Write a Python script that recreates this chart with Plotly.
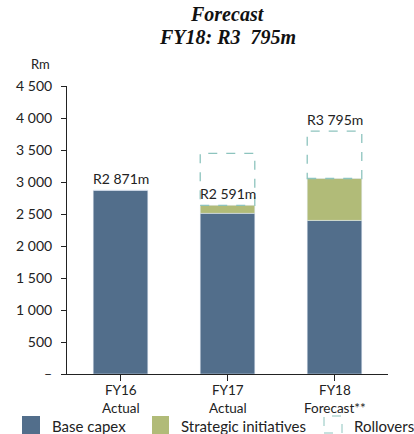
import plotly.graph_objects as go

categories = ["FY16<br>Actual", "FY17<br>Actual", "FY18<br>Forecast**"]
base_capex = [2871, 2510, 2400]
strategic = [0, 126, 655]
rollovers = [0, 811, 740]
value_labels = ["R2 871m", "R2 591m", "R3 795m"]
label_on_total = [True, False, True]
ytick_vals = [0, 500, 1000, 1500, 2000, 2500, 3000, 3500, 4000, 4500]
ytick_text = ["–", "500", "1 000", "1 500", "2 000", "2 500", "3 000", "3 500", "4 000", "4 500"]
legend_names = ["Base capex", "Strategic initiatives", "Rollovers"]
title_lines = ["Forecast", "FY18: R3  795m"]

BLUE = "#526E8B"
GREEN = "#B1BB78"
TEAL = "#8DC4BE"
FONT = "Lato"
W, H = 414, 434
ML, MR, MT, MB = 67, 26, 86, 60
PW, PH = W - ML - MR, H - MT - MB
BARW = 0.51

def px_x(p):
    return (p - ML) / PW

def px_y(p):
    return (H - MB - p) / PH

xs = list(range(len(categories)))
fig = go.Figure()
fig.add_trace(go.Bar(x=xs, y=base_capex, marker_color=BLUE, width=BARW,
                     name=legend_names[0], showlegend=False))
fig.add_trace(go.Bar(x=xs, y=strategic, base=base_capex, marker_color=GREEN, width=BARW,
                     name=legend_names[1], showlegend=False))

for i in xs:
    lo = base_capex[i] + strategic[i]
    hi = lo + rollovers[i]
    if rollovers[i] > 0:
        fig.add_shape(type="rect", xref="x", yref="y", x0=i - BARW / 2, x1=i + BARW / 2,
                      y0=lo, y1=hi, line=dict(color=TEAL, width=1.3, dash="dash"),
                      fillcolor="rgba(0,0,0,0)", layer="above")
    ly = hi if label_on_total[i] else lo
    fig.add_annotation(x=i, y=ly, xref="x", yref="y", text=value_labels[i],
                       showarrow=False, yanchor="bottom", yshift=1,
                       font=dict(family=FONT, size=14, color="#222"))
    # category labels
    fig.add_annotation(x=i, y=px_y(380), xref="x", yref="paper", text=categories[i],
                       showarrow=False, yanchor="top", xanchor="center",
                       font=dict(family=FONT, size=13.5, color="#222"))

# title lines
for line, py in zip(title_lines, [14, 37]):
    fig.add_annotation(x=px_x(227.5), y=px_y(py), xref="paper", yref="paper", text=line,
                       showarrow=False, xanchor="center", yanchor="middle",
                       font=dict(family="Liberation Serif", size=20, color="#111",
                                 weight="bold", style="italic"))

# "Rm" unit label
fig.add_annotation(x=px_x(40), y=px_y(64), xref="paper", yref="paper", text="Rm",
                   showarrow=False, xanchor="center", yanchor="middle",
                   font=dict(family=FONT, size=13, color="#222"))

# manual legend
leg = [(22, 40, BLUE, None, 50), (152, 169, GREEN, None, 179), (324, 342, None, TEAL, 352)]
for (x0, x1, fill, dash_col, tx), name in zip(leg, legend_names):
    if fill:
        fig.add_shape(type="rect", xref="paper", yref="paper", x0=px_x(x0), x1=px_x(x1),
                      y0=px_y(434), y1=px_y(416), fillcolor=fill, line=dict(width=0))
    else:
        fig.add_shape(type="rect", xref="paper", yref="paper", x0=px_x(x0), x1=px_x(x1),
                      y0=px_y(433), y1=px_y(416), fillcolor="rgba(0,0,0,0)",
                      line=dict(color=dash_col, width=1, dash="dash"))
    fig.add_annotation(x=px_x(tx), y=px_y(426), xref="paper", yref="paper", text=name,
                       showarrow=False, xanchor="left", yanchor="middle",
                       font=dict(family=FONT, size=15, color="#222"))

fig.update_layout(
    width=W, height=H, margin=dict(l=ML, r=MR, t=MT, b=MB),
    plot_bgcolor="white", paper_bgcolor="white", barmode="overlay", showlegend=False,
    xaxis=dict(range=[-0.5, 2.5], tickvals=xs, ticktext=categories, tickson="boundaries",
               ticks="outside", ticklen=6, tickcolor="#222", showline=True, linecolor="#222",
               linewidth=1, showgrid=False, zeroline=False, showticklabels=False),
    yaxis=dict(range=[0, 4500], tickvals=ytick_vals, ticktext=ytick_text, ticks="outside",
               ticklen=5, tickcolor="#222", showline=True, linecolor="#222", linewidth=1,
               showgrid=False, zeroline=False, ticklabelstandoff=6,
               tickfont=dict(family=FONT, size=14, color="#222")),
)
fig.write_html("out.html", config={"displayModeBar": False},
               post_script="document.body.style.margin='0px';")
